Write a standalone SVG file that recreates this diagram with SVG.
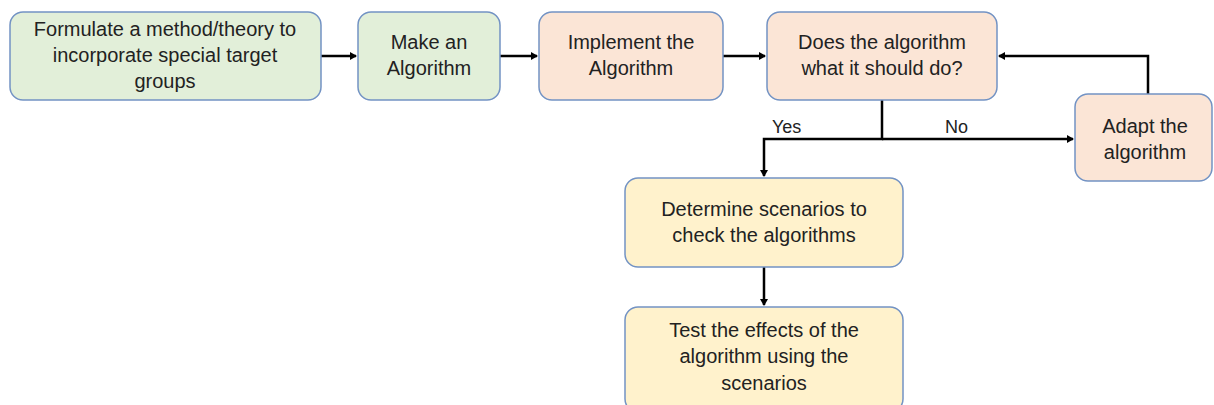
<svg xmlns="http://www.w3.org/2000/svg" width="1214" height="405" viewBox="0 0 1214 405">
<style>
.box{stroke:#7393c4;stroke-width:1.5}
.g{fill:#e2efd9}.p{fill:#fbe5d6}.y{fill:#fff2cc}
text{font-family:"Liberation Sans",Arial,sans-serif;font-size:20px;fill:#222;text-anchor:middle}
.lbl{text-anchor:start;font-size:18px}
.c{fill:none;stroke:#000;stroke-width:2.5}
</style>
<defs>
<marker id="ah" markerWidth="8" markerHeight="8" refX="6" refY="4" orient="auto" markerUnits="userSpaceOnUse">
<path d="M0,0 L7,4 L0,8 Z" fill="#000"/>
</marker>
</defs>
<g id="connectors">
<line class="c" x1="321" y1="56" x2="356" y2="56" marker-end="url(#ah)"/>
<line class="c" x1="500" y1="56" x2="537" y2="56" marker-end="url(#ah)"/>
<line class="c" x1="723" y1="56" x2="765" y2="56" marker-end="url(#ah)"/>
<polyline class="c" points="882,100 882,139 764,139 764,176" marker-end="url(#ah)"/>
<line class="c" x1="882" y1="139" x2="1073" y2="139" marker-end="url(#ah)"/>
<polyline class="c" points="1148,94 1148,56 999,56" marker-end="url(#ah)"/>
<line class="c" x1="764" y1="267" x2="764" y2="305" marker-end="url(#ah)"/>
<text class="lbl" x="772" y="133">Yes</text>
<text class="lbl" x="945" y="133">No</text>
</g>
<g id="n1"><rect class="box g" x="10" y="12" width="311" height="88" rx="13"/>
<text x="165" y="36">Formulate a method/theory to</text>
<text x="165" y="62">incorporate special target</text>
<text x="165" y="88">groups</text></g>
<g id="n2"><rect class="box g" x="358" y="12" width="142" height="88" rx="13"/>
<text x="429" y="49">Make an</text>
<text x="429" y="75">Algorithm</text></g>
<g id="n3"><rect class="box p" x="539" y="12" width="184" height="88" rx="13"/>
<text x="631" y="49">Implement the</text>
<text x="631" y="75">Algorithm</text></g>
<g id="n4"><rect class="box p" x="767" y="12" width="230" height="88" rx="13"/>
<text x="882" y="49">Does the algorithm</text>
<text x="882" y="75">what it should do?</text></g>
<g id="n5"><rect class="box p" x="1075" y="94" width="137" height="87" rx="13"/>
<text x="1145" y="133">Adapt the</text>
<text x="1145" y="159">algorithm</text></g>
<g id="n6"><rect class="box y" x="625" y="178" width="278" height="89" rx="13"/>
<text x="764" y="216">Determine scenarios to</text>
<text x="764" y="242">check the algorithms</text></g>
<g id="n7"><rect class="box y" x="625" y="307" width="278" height="105" rx="13"/>
<text x="764" y="337">Test the effects of the</text>
<text x="764" y="363">algorithm using the</text>
<text x="764" y="390">scenarios</text></g>
</svg>
